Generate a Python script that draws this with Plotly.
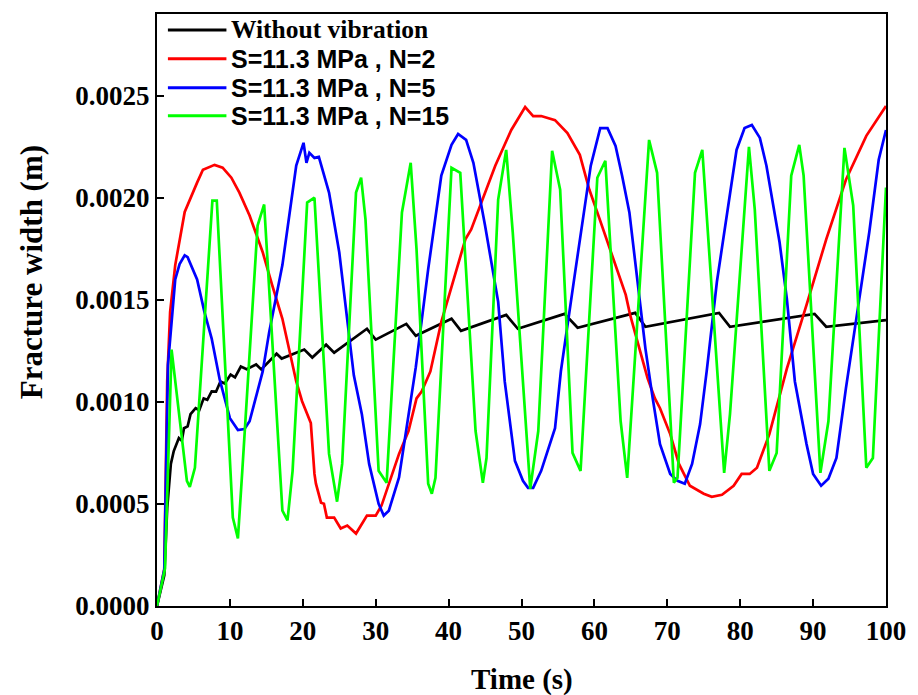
import plotly.graph_objects as go

# ---- data ----
t_black = [0, 1.0, 1.4, 1.9, 2.3, 3.0, 3.4, 3.7, 4.2, 4.6, 5.3, 5.8, 6.4, 6.9, 7.5, 8.1, 8.7, 9.3,
           10.1, 10.7, 11.5, 12.3, 13.6, 14.3, 16.4, 17.1, 20.2, 21.3, 23.2, 24.3, 28.8, 30.0,
           34.2, 35.5, 40.4, 41.7, 47.9, 49.5, 55.9, 57.7, 65.6, 67.0, 77.1, 78.6, 90.2, 91.8, 100]
w_black = [0, 0.00015, 0.00048, 0.000696, 0.000759, 0.000823, 0.00081, 0.000871, 0.00088, 0.00094,
           0.000969, 0.00096, 0.001017, 0.00101, 0.001051, 0.00105, 0.0011, 0.00109, 0.001134,
           0.00112, 0.001173, 0.00116, 0.001183, 0.001159, 0.001236, 0.001212, 0.001256, 0.001217,
           0.00128, 0.001241, 0.001358, 0.001305, 0.001382, 0.001324, 0.001407, 0.001348, 0.001426,
           0.001358, 0.001431, 0.001363, 0.001436, 0.001368, 0.001436, 0.001368, 0.001431, 0.001368,
           0.0014]

t_red = [0, 1.0, 1.4, 1.8, 2.5, 3.8, 5.5, 6.3, 7.9, 9.0, 10.2, 11.3, 12.7, 14.5, 15.8, 17.2, 19.1,
         19.9, 21.1, 21.6, 21.8, 22.5, 22.9, 23.3, 24.3, 25.2, 26.1, 27.3, 28.8, 30.0, 30.8, 33.2,
         34.5, 35.6, 36.3, 37.5, 39.0, 42.3, 43.1, 44.1, 46.4, 48.6, 50.5, 51.6, 52.7, 54.6, 56.3,
         58.0, 59.3, 60.4, 61.8, 64.3, 64.9, 65.9, 67.3, 68.3, 69.0, 70.4, 71.6, 73.1, 75.0, 76.1,
         77.5, 79.1, 80.2, 81.3, 82.3, 84.0, 86.4, 89.1, 91.8, 94.5, 97.3, 100]
w_red = [0, 0.00018, 0.0011, 0.00144, 0.00167, 0.00193, 0.002074, 0.002137, 0.002161, 0.002147,
         0.002098, 0.002025, 0.001913, 0.001733, 0.001572, 0.001407, 0.0011, 0.001003, 0.000896,
         0.000647, 0.000599, 0.000506, 0.000501, 0.000433, 0.000433, 0.00038, 0.000394, 0.000355,
         0.000443, 0.000443, 0.000492, 0.000745, 0.000857, 0.001017, 0.001051, 0.001149, 0.001392,
         0.001796, 0.001845, 0.001942, 0.002157, 0.002332, 0.002444, 0.0024, 0.0024, 0.00238,
         0.002317, 0.00221, 0.00204, 0.001928, 0.001782, 0.001524, 0.001426, 0.0013, 0.001115,
         0.001017, 0.000969, 0.000842, 0.000696, 0.000589, 0.00055, 0.000535, 0.000545, 0.000589,
         0.000647, 0.000647, 0.000677, 0.000842, 0.001163, 0.001475, 0.001796, 0.002088, 0.002303,
         0.002449]

t_blue = [0, 1.0, 1.5, 2.5, 3.1, 3.8, 4.2, 5.5, 6.5, 7.5, 8.6, 10.0, 11.1, 12.0, 12.7, 14.5, 15.4,
          17.2, 19.1, 20.1, 20.5, 20.9, 21.6, 22.2, 23.6, 25.0, 27.0, 28.1, 29.1, 30.4, 31.1, 31.8,
          33.2, 34.5, 35.5, 37.2, 39.0, 40.4, 41.3, 42.4, 43.4, 45.0, 46.8, 47.7, 49.1, 50.2, 50.9,
          51.6, 52.7, 54.6, 55.4, 57.3, 59.5, 60.8, 61.8, 62.9, 63.8, 64.8, 65.6, 66.3, 67.0, 68.0,
          69.0, 70.4, 71.4, 72.4, 73.4, 74.5, 75.4, 76.8, 78.6, 79.5, 80.6, 81.6, 82.7, 83.6, 85.4,
          86.4, 87.5, 89.1, 90.0, 91.1, 92.1, 93.2, 94.5, 96.2, 97.7, 99.0, 100]
w_blue = [0, 0.00018, 0.00118, 0.0016, 0.001675, 0.001718, 0.001709, 0.0016, 0.001441, 0.00131,
          0.00111, 0.00092, 0.000862, 0.000867, 0.000905, 0.001149, 0.001344, 0.00167, 0.002157,
          0.002269, 0.002171, 0.00222, 0.002195, 0.0022, 0.002025, 0.001733, 0.00113, 0.00094,
          0.000696, 0.000501, 0.000443, 0.000467, 0.00063, 0.00093, 0.00117, 0.00165, 0.002108,
          0.002259, 0.002312, 0.002283, 0.002171, 0.001864, 0.00149, 0.0011, 0.000711, 0.000613,
          0.000579, 0.000579, 0.000662, 0.000871, 0.00115, 0.001621, 0.002157, 0.002341, 0.002341,
          0.002254, 0.002108, 0.001928, 0.001684, 0.001456, 0.001261, 0.001017, 0.000793, 0.000647,
          0.000613, 0.000599, 0.000696, 0.000891, 0.001149, 0.001587, 0.002025, 0.002234, 0.002341,
          0.002356, 0.002293, 0.002157, 0.001782, 0.001504, 0.0011, 0.000793, 0.000647, 0.000589,
          0.000623, 0.000725, 0.001066, 0.001475, 0.00183, 0.002186, 0.002332]

t_green = [0, 1.1, 2.0, 2.9, 4.1, 4.5, 5.2, 7.6, 8.2, 10.4, 11.1, 11.7, 13.8, 14.7, 17.2, 17.9, 18.6,
           20.6, 21.6, 23.6, 24.7, 25.4, 27.3, 28.0, 28.6, 30.4, 31.5, 33.6, 34.8, 35.6, 37.2, 37.7,
           38.2, 40.4, 41.6, 43.7, 44.7, 45.2, 46.8, 47.9, 48.8, 51.2, 52.3, 54.2, 55.3, 57.0, 58.1,
           60.4, 61.5, 63.6, 64.5, 67.5, 68.6, 70.9, 71.4, 73.8, 74.8, 77.8, 78.6, 81.2, 82.0, 84.0,
           85.0, 87.0, 88.1, 88.7, 91.0, 92.1, 94.3, 95.5, 97.3, 98.2, 100]
w_green = [0, 0.000185, 0.001256, 0.000988, 0.000613, 0.000584, 0.000677, 0.001986, 0.001986,
           0.000433, 0.000331, 0.000662, 0.001864, 0.001967, 0.000467, 0.000419, 0.000662, 0.001976,
           0.002, 0.000745, 0.000511, 0.000696, 0.002025, 0.002098, 0.001894, 0.000662, 0.000604,
           0.001928, 0.002171, 0.001748, 0.000599, 0.00055, 0.000628, 0.002147, 0.002122, 0.000857,
           0.000604, 0.000725, 0.001991, 0.002234, 0.00183, 0.000574, 0.000857, 0.00223, 0.00204,
           0.00075, 0.000662, 0.002098, 0.002181, 0.000905, 0.000628, 0.002283, 0.002122, 0.000604,
           0.000628, 0.002122, 0.002234, 0.000652, 0.00094, 0.002249, 0.001942, 0.000662, 0.00075,
           0.002108, 0.002259, 0.002108, 0.000652, 0.000905, 0.002244, 0.001962, 0.000677, 0.000725,
           0.00205]

names = ["Without vibration", "S=11.3 MPa , N=2", "S=11.3 MPa , N=5", "S=11.3 MPa , N=15"]
colors = ["#000000", "#ff0000", "#0000ff", "#00ff00"]
x_ticks = [0, 10, 20, 30, 40, 50, 60, 70, 80, 90, 100]
y_ticks = [0.0, 0.0005, 0.0010, 0.0015, 0.0020, 0.0025]

serif = "Liberation Serif, Times New Roman, serif"
sans = "Liberation Sans, Arial, sans-serif"
legend_fonts = [serif, sans, sans, sans]
legend_sizes = [25.5, 25, 25, 25]

fig = go.Figure()
series = [(t_black, w_black), (t_red, w_red), (t_blue, w_blue), (t_green, w_green)]
for (tx, wy), nm, c in zip(series, names, colors):
    fig.add_trace(go.Scatter(x=tx, y=wy, mode="lines", name=nm, showlegend=False,
                             line=dict(color=c, width=2.7)))

# ---- hand-drawn legend (paper coordinates) ----
PL, PR, PT, PB = 157, 892, 12, 606
def px_x(p):
    return (p - PL) / (PR - PL)
def px_y(p):
    return (PB - p) / (PB - PT)

shapes = []
annotations = []
leg_rows = [28, 57, 86, 114]
for row, nm, c, fam, fs in zip(leg_rows, names, colors, legend_fonts, legend_sizes):
    shapes.append(dict(type="line", xref="paper", yref="paper",
                       x0=px_x(168), x1=px_x(227), y0=px_y(row), y1=px_y(row),
                       line=dict(color=c, width=3)))
    annotations.append(dict(text=nm, xref="paper", yref="paper", x=px_x(230), y=px_y(row),
                            xanchor="left", yanchor="middle", showarrow=False,
                            font=dict(family=fam, size=fs, color="black", weight="bold")))

annotations.append(dict(text="Time (s)", xref="paper", yref="paper", x=px_x(525), y=px_y(680),
                        xanchor="center", yanchor="middle", showarrow=False,
                        font=dict(family=serif, size=29, color="black", weight="bold")))
annotations.append(dict(text="Fracture width (m)", xref="paper", yref="paper", x=px_x(30),
                        y=px_y(271), xanchor="center", yanchor="middle", showarrow=False,
                        textangle=-90,
                        font=dict(family=serif, size=31, color="black", weight="bold")))

axis_common = dict(showgrid=False, zeroline=False, showline=True, linecolor="black",
                   linewidth=2, mirror=True, ticks="inside", ticklen=7, tickwidth=2,
                   tickcolor="black",
                   tickfont=dict(family=serif, size=27, color="black", weight="bold"))

fig.update_layout(
    width=918, height=695,
    margin=dict(l=157, r=26, t=12, b=89),
    paper_bgcolor="white", plot_bgcolor="white",
    xaxis=dict(range=[0, 100], tickvals=x_ticks, **axis_common),
    yaxis=dict(range=[0, 0.0029], tickvals=y_ticks, tickformat=".4f", **axis_common),
    showlegend=False,
    shapes=shapes,
    annotations=annotations,
)

fig.write_html("out.html")
